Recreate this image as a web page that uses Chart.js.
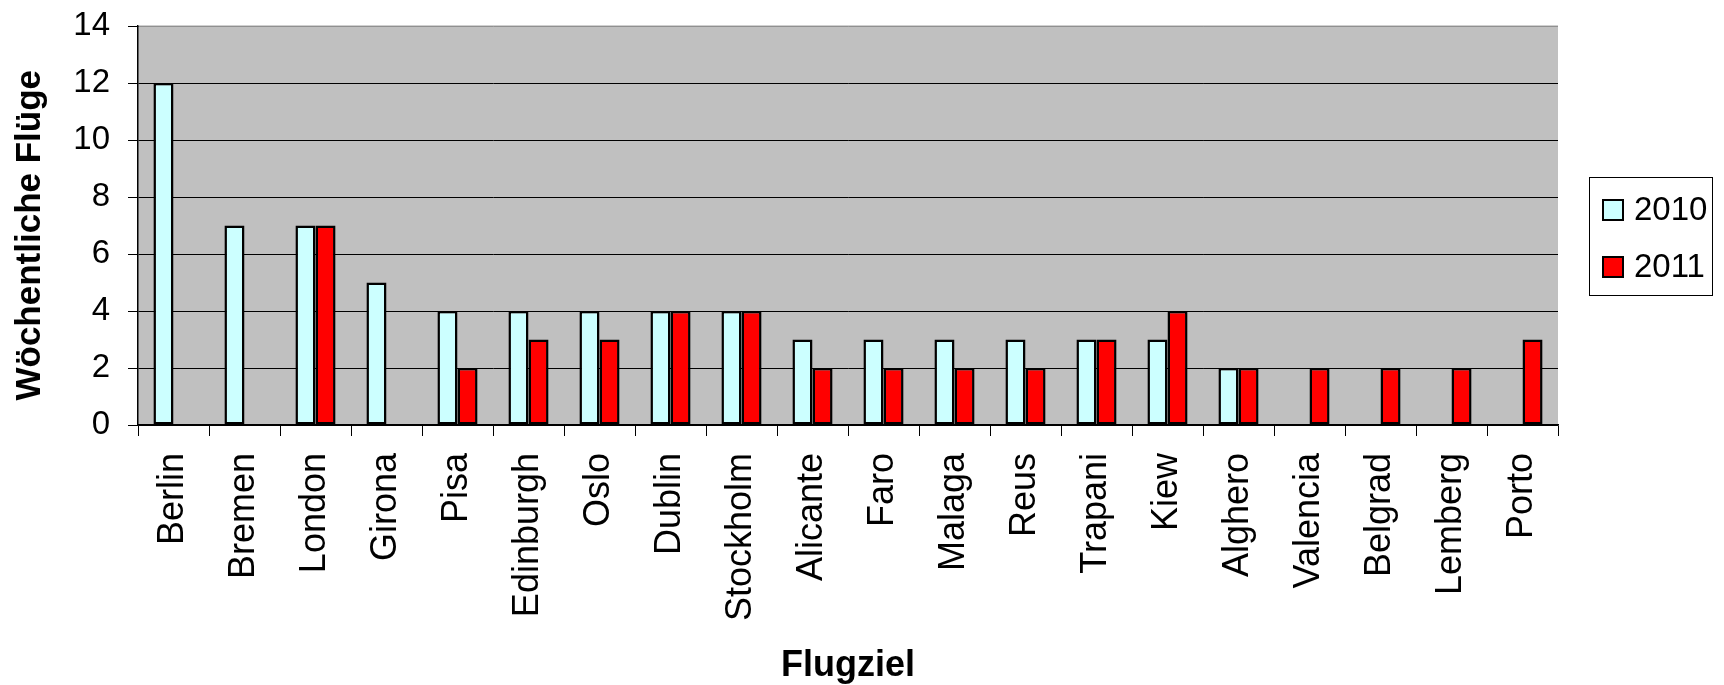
<!DOCTYPE html>
<html>
<head>
<meta charset="utf-8">
<script src="https://cdn.jsdelivr.net/npm/chart.js@4.4.1/dist/chart.umd.min.js"></script>
<style>
  html, body { margin: 0; padding: 0; background: #ffffff; }
  #wrap { width: 1724px; height: 685px; position: relative; }
</style>
</head>
<body>
<div id="wrap"><canvas id="c" width="1724" height="685"></canvas></div>
<script>
const categories = ["Berlin","Bremen","London","Girona","Pisa","Edinburgh","Oslo","Dublin","Stockholm","Alicante","Faro","Malaga","Reus","Trapani","Kiew","Alghero","Valencia","Belgrad","Lemberg","Porto"];
const seriesLabels = ["2010", "2011"];
const values2010 = [12, 7, 7, 5, 4, 4, 4, 4, 4, 3, 3, 3, 3, 3, 3, 2, null, null, null, null];
const values2011 = [null, null, 7, null, 2, 3, 3, 4, 4, 2, 2, 2, 2, 3, 4, 2, 2, 2, 2, 3];
const yTicks = [0, 2, 4, 6, 8, 10, 12, 14];
const colors = ["#CCFFFF", "#FF0000"];

const FONT = "'Liberation Sans', Arial, sans-serif";

const plotBg = {
  id: 'plotBg',
  beforeDraw(chart) {
    const {ctx, chartArea: a} = chart;
    ctx.save();
    ctx.fillStyle = '#C0C0C0';
    ctx.fillRect(a.left, a.top, a.right - a.left, a.bottom - a.top);
    ctx.restore();
  },
  afterDatasetsDraw(chart) {
    // Excel draws no grid line along the very top edge
    const {ctx, chartArea: a} = chart;
    ctx.save();
    ctx.strokeStyle = '#C0C0C0';
    ctx.lineWidth = 1.5;
    ctx.beginPath();
    ctx.moveTo(a.left + 1, a.top);
    ctx.lineTo(a.right, a.top);
    ctx.stroke();
    ctx.restore();
  },
  afterDraw(chart) {
    const {ctx} = chart;
    const ds = chart.data.datasets;
    const bx = 1589, by = 177, bw = 123, bh = 118;
    ctx.save();
    ctx.fillStyle = '#ffffff';
    ctx.fillRect(bx, by, bw, bh);
    ctx.strokeStyle = '#000000';
    ctx.lineWidth = 1;
    ctx.strokeRect(bx + 0.5, by + 0.5, bw, bh);
    const centers = [210, 267];
    ds.forEach((d, i) => {
      const cy = centers[i];
      ctx.fillStyle = d.backgroundColor;
      ctx.fillRect(1603, cy - 10, 20, 20);
      ctx.lineWidth = 2;
      ctx.strokeStyle = '#000';
      ctx.strokeRect(1603, cy - 10, 20, 20);
      ctx.fillStyle = '#000';
      ctx.font = "33px " + FONT;
      ctx.textAlign = 'left';
      ctx.textBaseline = 'middle';
      ctx.fillText(d.label, 1634, cy + 1);
    });
    ctx.restore();
  }
};

new Chart(document.getElementById('c'), {
  type: 'bar',
  data: {
    labels: categories,
    datasets: [
      { label: seriesLabels[0], data: values2010, backgroundColor: colors[0], borderColor: '#000', borderWidth: 2.5, borderSkipped: false },
      { label: seriesLabels[1], data: values2011, backgroundColor: colors[1], borderColor: '#000', borderWidth: 2.5, borderSkipped: false }
    ]
  },
  options: {
    responsive: false,
    animation: false,
    devicePixelRatio: 1,
    layout: { padding: { top: 26, right: 166, bottom: 0, left: 0 } },
    datasets: { bar: { categoryPercentage: 0.565, barPercentage: 1.0 } },
    plugins: { legend: { display: false }, tooltip: { enabled: false } },
    scales: {
      x: {
        grid: { offset: true, drawOnChartArea: false, color: '#000', tickLength: 11, lineWidth: 1 },
        border: { color: '#000', width: 1.5 },
        ticks: { color: '#000', font: { family: FONT, size: 36 }, minRotation: 90, maxRotation: 90, autoSkip: false, padding: 17 },
        title: { display: true, text: 'Flugziel', color: '#000', font: { family: FONT, size: 36, weight: 'bold', lineHeight: 1 }, padding: { top: 0, bottom: 1 } },
        afterFit(scale) { scale.height = 260; scale.paddingLeft = 0; scale.paddingRight = 0; }
      },
      y: {
        min: 0, max: 14,
        afterBuildTicks(scale) { scale.ticks = yTicks.map(v => ({ value: v })); },
        grid: { color: '#000', tickLength: 10, lineWidth: 1 },
        border: { color: '#000', width: 1.5 },
        ticks: { color: '#000', font: { family: FONT, size: 33 }, padding: 18 },
        title: { display: true, text: 'Wöchentliche Flüge  ', color: '#000', font: { family: FONT, size: 35, weight: 'bold', lineHeight: 1 }, padding: { top: 13, bottom: 0 } },
        afterFit(scale) { scale.width = 138; scale.paddingTop = 0; scale.paddingBottom = 0; }
      }
    }
  },
  plugins: [plotBg]
});
</script>
</body>
</html>
